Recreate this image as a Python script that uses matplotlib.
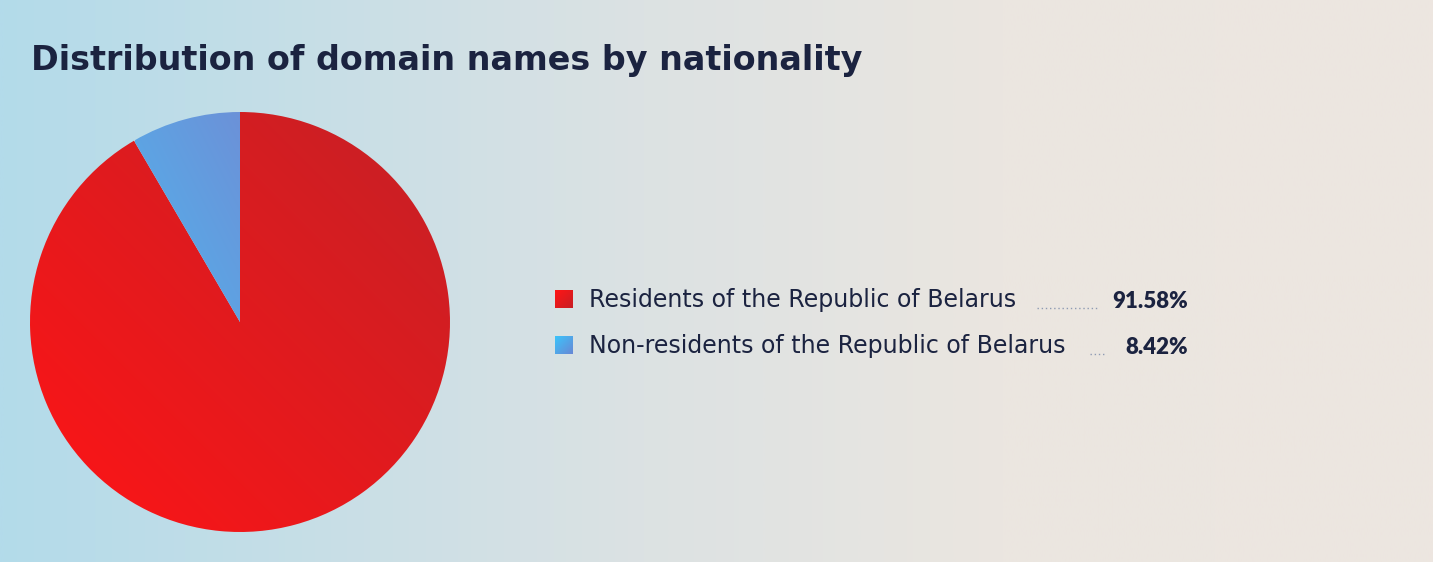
import numpy as np
import matplotlib
matplotlib.use("Agg")
import matplotlib.pyplot as plt
from matplotlib.colors import LinearSegmentedColormap

W, H = 1433, 562

title = "Distribution of domain names by nationality"
categories = ["Residents of the Republic of Belarus",
              "Non-residents of the Republic of Belarus"]
shares = [91.58, 8.42]
share_labels = ["91.58%", "8.42%"]

TXT = "#1b2340"
FONT = "DejaVu Sans"

fig = plt.figure(figsize=(W / 100, H / 100), dpi=100)

# background gradient
bg = fig.add_axes([0, 0, 1, 1])
bg.set_axis_off()
cmap_bg = LinearSegmentedColormap.from_list(
    "bg", [(0, "#b3dbea"), (0.45, "#dce2e3"), (0.7, "#ebe6e0"), (1, "#ede6e0")])
bg.imshow(np.linspace(0, 1, 512)[None, :], aspect="auto", cmap=cmap_bg,
          extent=[0, W, H, 0], zorder=0)
bg.set_xlim(0, W)
bg.set_ylim(H, 0)


def diag_img(c0, c1, n=200):
    x = np.linspace(0, 1, n)
    X, Y = np.meshgrid(x, x)
    t = (X + Y) / 2
    c0 = np.array(c0) / 255.0
    c1 = np.array(c1) / 255.0
    return c0[None, None, :] * (1 - t[..., None]) + c1[None, None, :] * t[..., None]


red0, red1 = (255, 20, 22), (196, 33, 38)
blue0, blue1 = (82, 178, 236), (108, 145, 216)

# pie
pax = fig.add_axes([30 / W, (H - 532) / H, 420 / W, 420 / H])
wedges, _ = pax.pie(shares, startangle=90, counterclock=False, radius=1,
                    colors=["none", "none"], wedgeprops=dict(linewidth=0))
grads = [(red0, red1, [-1, 1, -1, 1]), (blue0, blue1, [-0.5, 0, 0, 1])]
for w, (c0, c1, ext) in zip(wedges, grads):
    im = pax.imshow(diag_img(c0, c1), extent=ext, origin="lower",
                    interpolation="bilinear", zorder=1)
    im.set_clip_path(w)
pax.set_xlim(-1, 1)
pax.set_ylim(-1, 1)
pax.set_aspect("equal")
pax.set_axis_off()

# title
bg.text(31, 70, title, fontsize=24, fontweight="bold", color=TXT,
        va="baseline", ha="left", family=FONT)

# legend
rows_y = [307.5, 353.5]
sq_grads = [((255, 22, 22), (200, 30, 36)), ((60, 196, 250), (104, 136, 214))]
for i, (cat, lab) in enumerate(zip(categories, share_labels)):
    yb = rows_y[i]
    c0, c1 = sq_grads[i]
    bg.imshow(diag_img(c0, c1, 40), extent=[555, 572.5, yb + 0.3, yb - 17.5],
              origin="upper", interpolation="bilinear", zorder=2, aspect="auto")
    bg.text(589, yb, cat, fontsize=17, color=TXT, va="baseline", ha="left",
            family=FONT)
    bg.text(1188, yb + 1, lab, fontsize=16, fontweight="heavy", color=TXT,
            va="baseline", ha="right", family="Lato")
leaders = [(1037, 1098), (1090, 1105)]
for (x0, x1), yb in zip(leaders, rows_y):
    bg.plot([x0, x1], [yb, yb], color="#8f9bb3", lw=1.0,
            linestyle=(0, (1, 2)), zorder=2)
bg.set_xlim(0, W)
bg.set_ylim(H, 0)

fig.savefig("out.png", dpi=100)
